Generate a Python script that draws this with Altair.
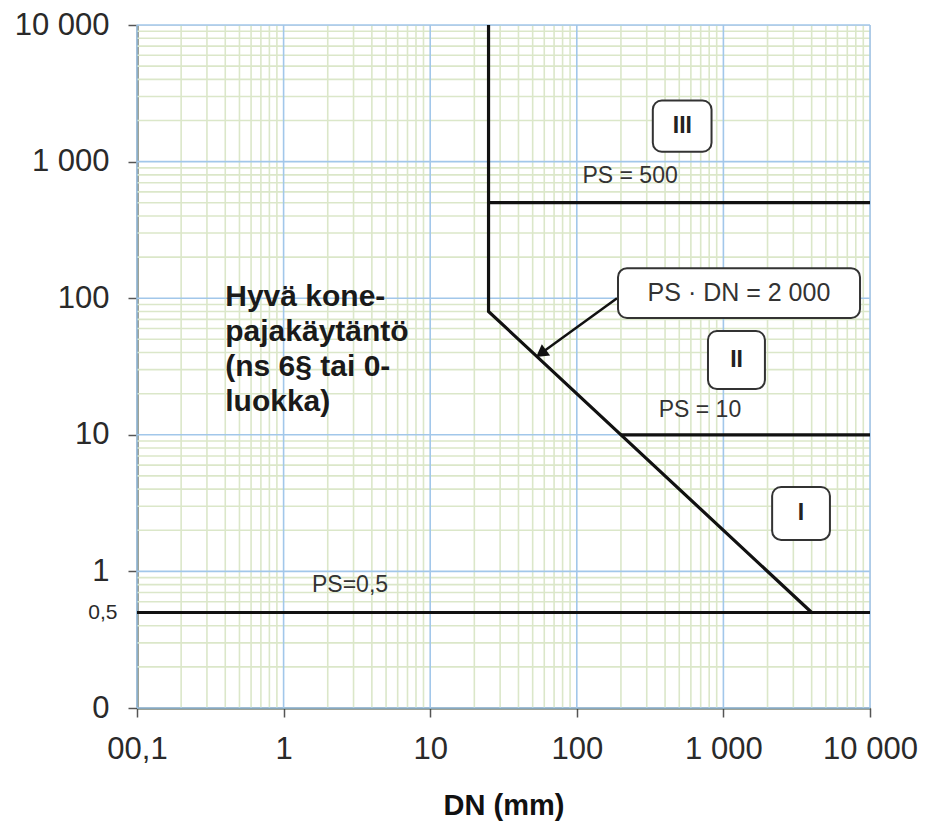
import altair as alt
import pandas as pd

# ---- axis ticks ----
x_ticks = [0.1, 1, 10, 100, 1000, 10000]
x_tick_labels = ["00,1", "1", "10", "100", "1 000", "10 000"]
y_ticks = [0.1, 0.5, 1, 10, 100, 1000, 10000]
y_tick_labels = ["0", "0,5", "1", "10", "100", "1 000", "10 000"]

# ---- grid ----
major_lines = [0.1, 1, 10, 100, 1000, 10000]
decades = [0.1, 1, 10, 100, 1000]
minor_steps = [2, 3, 4, 5, 6, 7, 8, 9]

# ---- boundary lines (DN, PS) ----
line_names = ["boundary", "boundary", "boundary", "ps500", "ps500", "ps10", "ps10", "ps05", "ps05"]
line_order = [0, 1, 2, 0, 1, 0, 1, 0, 1]
line_dn = [25, 25, 4000, 25, 10000, 200, 10000, 0.1, 10000]
line_ps = [10000, 80, 0.5, 500, 500, 10, 10, 0.5, 0.5]

# ---- category boxes ----
box_labels = ["III", "", "II", "I"]
box_dn1 = [330, 191, 785, 2150]
box_dn2 = [830, 8550, 1920, 5330]
box_ps1 = [2800, 166, 57.5, 4.15]
box_ps2 = [1180, 71.6, 21.6, 1.70]
box_text_dn = [525, 1277, 1230, 3380]
box_text_ps = [1820, 109, 35, 2.68]

# ---- plain labels ----
lab_text = ["PS = 500", "PS = 10", "PS=0,5"]
lab_dn = [231, 692, 2.84]
lab_ps = [785, 15.2, 0.80]

# ---- arrow ----
arrow_dn = [188, 58]
arrow_ps = [100, 40]
arrow_head_dn = [58.5]
arrow_head_ps = [40.2]

note_text = "Hyvä kone-\npajakäytäntö\n(ns 6§ tai 0-\nluokka)"
note_dn = [0.40]
note_ps = [88]


def label_expr(vals, labels):
    expr = "''"
    for v, l in reversed(list(zip(vals, labels))):
        expr = f"datum.value == {v} ? '{l}' : {expr}"
    return expr


FONT = "Liberation Sans"
xscale = alt.Scale(type="log", domain=[0.1, 10000], nice=False)
yscale = alt.Scale(type="log", domain=[0.1, 10000], nice=False)

xaxis = alt.Axis(
    values=x_ticks, labelExpr=label_expr(x_ticks, x_tick_labels), grid=False,
    title="DN (mm)", titleFont=FONT, titleFontSize=29, titleFontWeight="bold",
    titleColor="#111", titlePadding=27,
    labelFont=FONT, labelFontSize=31, labelColor="#2a2a2a", labelPadding=17,
    labelFlush=False, labelOverlap=False,
    tickSize=9, tickColor="#555", tickWidth=1.5, domainColor="#3f4a35", domainWidth=2,
)
yaxis = alt.Axis(
    values=y_ticks, labelExpr=label_expr(y_ticks, y_tick_labels), grid=False, title=None,
    labelFont=FONT, labelColor="#2a2a2a",
    labelFontSize={"condition": {"test": "datum.value == 0.5", "value": 21}, "value": 31},
    labelPadding={"condition": {"test": "datum.value == 0.5", "value": 11}, "value": 19},
    tickOpacity={"condition": {"test": "datum.value == 0.5", "value": 0}, "value": 1},
    labelFlush=False, labelOverlap=False,
    tickSize=9, tickColor="#555", tickWidth=1.5, domainColor="#3f4a35", domainWidth=2,
)

X = lambda f="DN": alt.X(f"{f}:Q", scale=xscale, axis=xaxis)
Y = lambda f="PS": alt.Y(f"{f}:Q", scale=yscale, axis=yaxis)

minor_vals = [d * k for d in decades for k in minor_steps]
minor_x = pd.DataFrame({"DN": minor_vals})
minor_y = pd.DataFrame({"PS": minor_vals})
major_x = pd.DataFrame({"DN": major_lines})
major_y = pd.DataFrame({"PS": major_lines})

GREEN = "#dbe7c9"
BLUE = "#a2c7ea"

g1 = alt.Chart(minor_x).mark_rule(color=GREEN, strokeWidth=1.6).encode(x=X())
g2 = alt.Chart(minor_y).mark_rule(color=GREEN, strokeWidth=1.6).encode(y=Y())
g3 = alt.Chart(major_x).mark_rule(color=BLUE, strokeWidth=1.6).encode(x=X())
g4 = alt.Chart(major_y).mark_rule(color=BLUE, strokeWidth=1.6).encode(y=Y())

lines_df = pd.DataFrame({"line": line_names, "o": line_order, "DN": line_dn, "PS": line_ps})
lines = alt.Chart(lines_df).mark_line(color="#111", strokeWidth=3.2).encode(
    x=X(), y=Y(), detail="line:N", order="o:Q")

arrow_df = pd.DataFrame({"DN": arrow_dn, "PS": arrow_ps})
arrow = alt.Chart(arrow_df).mark_line(color="#111", strokeWidth=2.5).encode(x=X(), y=Y())
head_df = pd.DataFrame({"DN": arrow_head_dn, "PS": arrow_head_ps})
head = alt.Chart(head_df).mark_point(shape="triangle", angle=234, size=200, filled=True,
                                     color="#111", opacity=1).encode(x=X(), y=Y())

box_df = pd.DataFrame({"DN": box_dn1, "DN2": box_dn2, "PS": box_ps1, "PS2": box_ps2})
boxes = alt.Chart(box_df).mark_rect(fill="white", stroke="#333", strokeWidth=2,
                                    cornerRadius=9).encode(
    x=X(), x2="DN2:Q", y=Y(), y2="PS2:Q")

roman_df = pd.DataFrame({"DN": box_text_dn, "PS": box_text_ps, "t": box_labels})
roman = alt.Chart(roman_df.iloc[[0, 2, 3]]).mark_text(
    font=FONT, fontSize=23, fontWeight="bold", color="#222").encode(x=X(), y=Y(), text="t:N")
psdn_df = pd.DataFrame({"DN": [box_text_dn[1]], "PS": [box_text_ps[1]], "t": ["PS · DN = 2 000"]})
psdn = alt.Chart(psdn_df).mark_text(font=FONT, fontSize=25, color="#333").encode(
    x=X(), y=Y(), text="t:N")

lab_df = pd.DataFrame({"DN": lab_dn, "PS": lab_ps, "t": lab_text})
labs = alt.Chart(lab_df).mark_text(font=FONT, fontSize=23, color="#333").encode(
    x=X(), y=Y(), text="t:N")

note_df = pd.DataFrame({"DN": note_dn, "PS": note_ps, "t": [note_text]})
note = alt.Chart(note_df).mark_text(
    font=FONT, fontSize=30, fontWeight="bold", color="#1a1a1a", align="left",
    baseline="alphabetic", lineBreak="\n", lineHeight=35).encode(x=X(), y=Y(), text="t:N")

chart = alt.layer(g1, g2, g3, g4, lines, arrow, head, boxes, roman, psdn, labs, note).properties(
    width=733, height=683,
    padding={"left": 129, "top": 17, "right": 48, "bottom": 113},
    autosize=alt.AutoSizeParams(type="none"),
).configure_view(stroke="#333", strokeWidth=2).configure(background="white")

chart.save("out.html", embed_options={"renderer": "svg", "actions": False})
